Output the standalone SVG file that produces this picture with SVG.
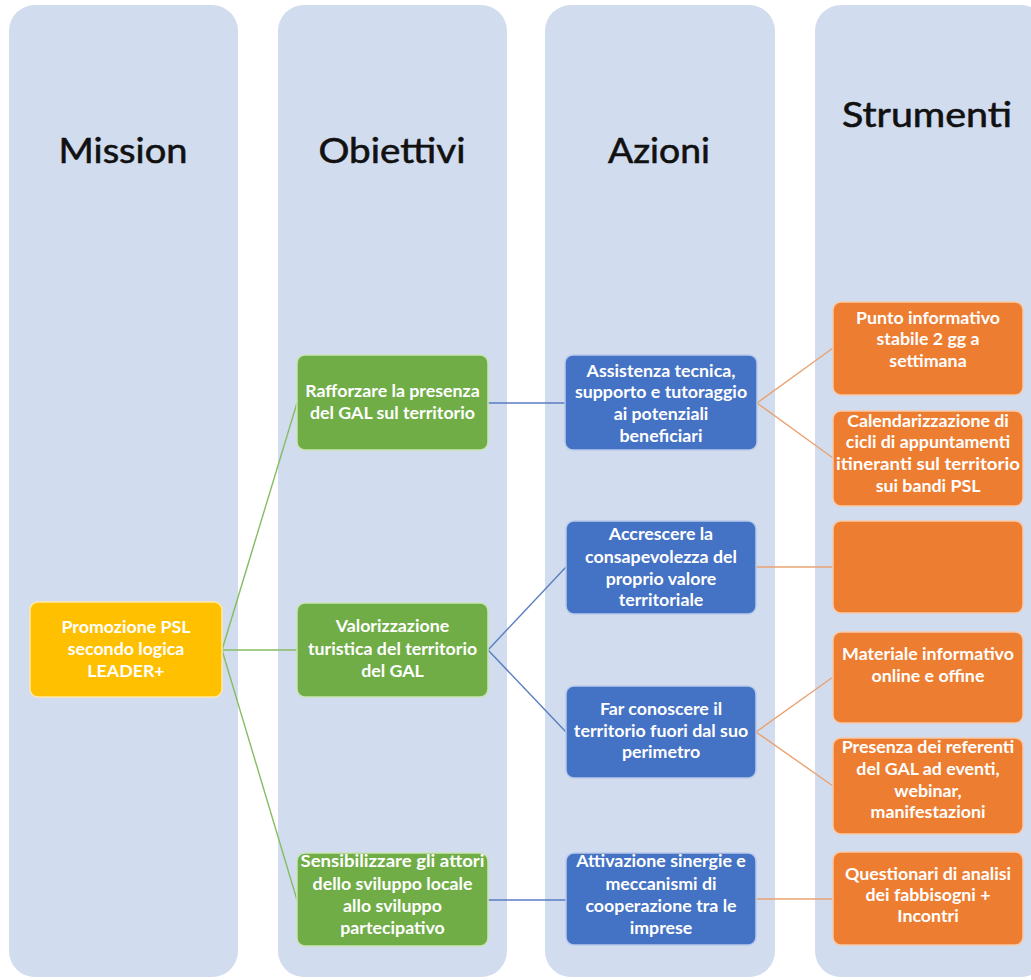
<svg xmlns="http://www.w3.org/2000/svg" width="1031" height="980" viewBox="0 0 1031 980">
<style>
.panel{fill:#D1DCEE}
.hdr{font-family:Lato,"Noto Sans",sans-serif;font-size:35px;fill:#111;stroke:#111;stroke-width:0.6;text-anchor:middle}
.t{font-family:Lato,"Noto Sans",sans-serif;font-weight:bold;font-size:17.8px;fill:#fff;text-anchor:middle}
.y{fill:#FFC000;stroke:#FFE9A6;stroke-width:1.5}
.g{fill:#70AD47;stroke:#C9E4B5;stroke-width:1.5}
.b{fill:#4472C4;stroke:#B8C9EA;stroke-width:1.5}
.o{fill:#ED7D31;stroke:#F8C9A8;stroke-width:1.5}
.cg{stroke:#86BC62;stroke-width:1.4;fill:none}
.cb{stroke:#5A7DC0;stroke-width:1.4;fill:none}
.co{stroke:#E9A272;stroke-width:1.4;fill:none}
</style>
<rect width="1031" height="980" fill="#fff"/>
<g id="col-mission"><rect class="panel" x="9" y="5" width="229" height="972" rx="26"/><text class="hdr" x="123" y="163" textLength="129" lengthAdjust="spacingAndGlyphs">Mission</text></g>
<g id="col-obiettivi"><rect class="panel" x="278" y="5" width="229" height="972" rx="26"/><text class="hdr" x="392" y="163" textLength="147" lengthAdjust="spacingAndGlyphs">Obiettivi</text></g>
<g id="col-azioni"><rect class="panel" x="545" y="5" width="230" height="972" rx="26"/><text class="hdr" x="659" y="163" textLength="102" lengthAdjust="spacingAndGlyphs">Azioni</text></g>
<g id="col-strumenti"><rect class="panel" x="815" y="5" width="232" height="972" rx="26"/><text class="hdr" x="927" y="127" textLength="170" lengthAdjust="spacingAndGlyphs">Strumenti</text></g>
<g id="connectors">
<line class="cg" x1="222" y1="650" x2="297" y2="403"/>
<line class="cg" x1="222" y1="650" x2="297" y2="650"/>
<line class="cg" x1="222" y1="650" x2="297" y2="900"/>
<line class="cb" x1="488" y1="403" x2="565" y2="403"/>
<line class="cb" x1="488" y1="650" x2="566" y2="567"/>
<line class="cb" x1="488" y1="650" x2="566" y2="732"/>
<line class="cb" x1="488" y1="900" x2="566" y2="900"/>
<line class="co" x1="757" y1="403" x2="833" y2="348"/>
<line class="co" x1="757" y1="403" x2="833" y2="458"/>
<line class="co" x1="756" y1="567" x2="833" y2="567"/>
<line class="co" x1="756" y1="732" x2="833" y2="677"/>
<line class="co" x1="756" y1="732" x2="833" y2="786"/>
<line class="co" x1="756" y1="899" x2="833" y2="899"/>
</g>
<g id="n-mission"><rect class="y" x="30" y="602" width="192" height="95" rx="8"/>
<text class="t" x="126" y="633">Promozione PSL</text><text class="t" x="126" y="655">secondo logica</text><text class="t" x="126" y="677">LEADER+</text></g>
<g id="n-rafforzare"><rect class="g" x="297" y="355" width="191" height="95" rx="8"/>
<text class="t" x="392.5" y="397">Rafforzare la presenza</text><text class="t" x="392.5" y="419">del GAL sul territorio</text></g>
<g id="n-valorizzazione"><rect class="g" x="297" y="603" width="191" height="94" rx="8"/>
<text class="t" x="392.5" y="632">Valorizzazione</text><text class="t" x="392.5" y="655">turistica del territorio</text><text class="t" x="392.5" y="677">del GAL</text></g>
<g id="n-sensibilizzare"><rect class="g" x="297" y="853" width="191" height="93" rx="8"/>
<text class="t" x="392.5" y="867" textLength="184" lengthAdjust="spacingAndGlyphs">Sensibilizzare gli attori</text><text class="t" x="392.5" y="890">dello sviluppo locale</text><text class="t" x="392.5" y="912">allo sviluppo</text><text class="t" x="392.5" y="934">partecipativo</text></g>
<g id="n-assistenza"><rect class="b" x="565" y="355" width="192" height="95" rx="8"/>
<text class="t" x="661" y="377">Assistenza tecnica,</text><text class="t" x="661" y="398">supporto e tutoraggio</text><text class="t" x="661" y="420">ai potenziali</text><text class="t" x="661" y="442">beneficiari</text></g>
<g id="n-accrescere"><rect class="b" x="566" y="521" width="190" height="93" rx="8"/>
<text class="t" x="661" y="540">Accrescere la</text><text class="t" x="661" y="563">consapevolezza del</text><text class="t" x="661" y="585">proprio valore</text><text class="t" x="661" y="606">territoriale</text></g>
<g id="n-farconoscere"><rect class="b" x="566" y="686" width="190" height="92" rx="8"/>
<text class="t" x="661" y="715">Far conoscere il</text><text class="t" x="661" y="737">territorio fuori dal suo</text><text class="t" x="661" y="758">perimetro</text></g>
<g id="n-attivazione"><rect class="b" x="566" y="853" width="190" height="92" rx="8"/>
<text class="t" x="661" y="867">Attivazione sinergie e</text><text class="t" x="661" y="890">meccanismi di</text><text class="t" x="661" y="912">cooperazione tra le</text><text class="t" x="661" y="934">imprese</text></g>
<g id="n-punto"><rect class="o" x="833" y="302" width="190" height="93" rx="8"/>
<text class="t" x="928" y="324">Punto informativo</text><text class="t" x="928" y="345">stabile 2 gg a</text><text class="t" x="928" y="367">settimana</text></g>
<g id="n-calendar"><rect class="o" x="833" y="411" width="190" height="95" rx="8"/>
<text class="t" x="928" y="427">Calendarizzazione di</text><text class="t" x="928" y="448">cicli di appuntamenti</text><text class="t" x="928" y="470" textLength="184" lengthAdjust="spacingAndGlyphs">itineranti sul territorio</text><text class="t" x="928" y="492">sui bandi PSL</text></g>
<g id="n-empty"><rect class="o" x="833" y="521" width="190" height="92" rx="8"/></g>
<g id="n-materiale"><rect class="o" x="833" y="632" width="190" height="91" rx="8"/>
<text class="t" x="928" y="660">Materiale informativo</text><text class="t" x="928" y="682">online e offine</text></g>
<g id="n-presenza"><rect class="o" x="833" y="738" width="190" height="96" rx="8"/>
<text class="t" x="928" y="753">Presenza dei referenti</text><text class="t" x="928" y="775">del GAL ad eventi,</text><text class="t" x="928" y="797">webinar,</text><text class="t" x="928" y="818">manifestazioni</text></g>
<g id="n-questionari"><rect class="o" x="833" y="852" width="190" height="93" rx="8"/>
<text class="t" x="928" y="880">Questionari di analisi</text><text class="t" x="928" y="901">dei fabbisogni  +</text><text class="t" x="928" y="922">Incontri</text></g>
</svg>
